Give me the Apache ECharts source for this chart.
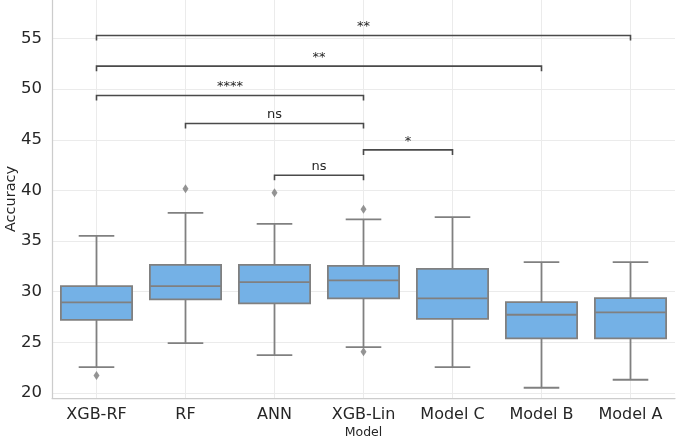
<!DOCTYPE html>
<html>
<head>
<meta charset="utf-8">
<script src="https://cdn.jsdelivr.net/npm/echarts@6/dist/echarts.min.js"></script>
<style>
html,body{margin:0;padding:0;background:#fff;}
#main{width:677px;height:440px;}
</style>
</head>
<body>
<div id="main"></div>
<script>
const categories = ['XGB-RF', 'RF', 'ANN', 'XGB-Lin', 'Model C', 'Model B', 'Model A'];
const whiskerLow  = [22.55, 24.92, 23.74, 24.53, 22.55, 20.51, 21.30];
const q1          = [27.22, 29.23, 28.84, 29.33, 27.32, 25.39, 25.39];
const median      = [28.94, 30.55, 30.94, 31.11, 29.33, 27.72, 27.95];
const q3          = [30.55, 32.65, 32.65, 32.55, 32.26, 28.97, 29.36];
const whiskerHigh = [35.50, 37.78, 36.70, 37.13, 37.36, 32.92, 32.92];
const outlierCat  = [0, 1, 2, 3, 3];
const outlierVal  = [21.73, 40.15, 39.76, 38.15, 24.06];
const bracketFrom = [3, 2, 1, 0, 0, 0];
const bracketTo   = [4, 3, 3, 3, 5, 6];
const bracketY    = [44.0, 41.5, 46.6, 49.37, 52.27, 55.3];
const bracketText = ['*', 'ns', 'ns', '****', '**', '**'];
const yTicks = [20, 25, 30, 35, 40, 45, 50, 55];

const catIdx = categories.map((c, i) => i);
const boxData = categories.map((c, i) => [i, whiskerLow[i], q1[i], median[i], q3[i], whiskerHigh[i]]);
const outData = outlierCat.map((c, i) => [c, outlierVal[i]]);
const brData = bracketFrom.map((f, i) => [f, bracketTo[i], bracketY[i], bracketText[i]]);

const FONT = 'DejaVu Sans';
const EDGE = '#808080';

const chart = echarts.init(document.getElementById('main'), null, {renderer: 'canvas'});
chart.setOption({
  animation: false,
  backgroundColor: '#ffffff',
  grid: {left: 52, right: 2, top: 0, bottom: 42, containLabel: false, outerBoundsMode: 'none'},
  xAxis: {
    type: 'value', min: -0.5, max: 6.5,
    name: 'Model', nameLocation: 'middle', nameGap: 28, nameMoveOverlap: false,
    nameTextStyle: {fontFamily: FONT, fontSize: 12.5, color: '#262626'},
    axisLine: {show: true, onZero: false, lineStyle: {color: '#cccccc', width: 1.25}},
    axisTick: {show: false, customValues: catIdx},
    axisLabel: {customValues: catIdx, formatter: v => categories[v], fontFamily: FONT, fontSize: 16, color: '#262626', margin: 9},
    splitLine: {show: true, lineStyle: {color: '#ebebeb', width: 1}}
  },
  yAxis: {
    type: 'value', min: 19.5, max: 58.8,
    name: 'Accuracy', nameLocation: 'middle', nameGap: 33, nameMoveOverlap: false,
    nameTextStyle: {fontFamily: FONT, fontSize: 14.5, color: '#262626'},
    axisLine: {show: true, onZero: false, lineStyle: {color: '#cccccc', width: 1.25}},
    axisTick: {show: false, customValues: yTicks},
    axisLabel: {customValues: yTicks, fontFamily: FONT, fontSize: 16.5, color: '#262626', margin: 10},
    splitLine: {show: true, lineStyle: {color: '#ebebeb', width: 1}}
  },
  series: [
    {
      type: 'custom',
      data: boxData,
      encode: {x: 0, y: [1, 2, 3, 4, 5]},
      z: 3,
      renderItem: function (params, api) {
        const i = api.value(0);
        const band = api.size([1, 0])[0];
        const bw = band * 0.8, cw = band * 0.4;
        const pLow = api.coord([i, api.value(1)]);
        const pQ1 = api.coord([i, api.value(2)]);
        const pMed = api.coord([i, api.value(3)]);
        const pQ3 = api.coord([i, api.value(4)]);
        const pHigh = api.coord([i, api.value(5)]);
        const x = pLow[0];
        const ls = {stroke: EDGE, lineWidth: 1.8, fill: null};
        return {
          type: 'group',
          children: [
            {type: 'line', shape: {x1: x, y1: pQ1[1], x2: x, y2: pLow[1]}, style: ls},
            {type: 'line', shape: {x1: x, y1: pQ3[1], x2: x, y2: pHigh[1]}, style: ls},
            {type: 'line', shape: {x1: x - cw / 2, y1: pLow[1], x2: x + cw / 2, y2: pLow[1]}, style: ls},
            {type: 'line', shape: {x1: x - cw / 2, y1: pHigh[1], x2: x + cw / 2, y2: pHigh[1]}, style: ls},
            {type: 'rect', shape: {x: x - bw / 2, y: pQ3[1], width: bw, height: pQ1[1] - pQ3[1]},
              style: {fill: '#74b1e6', stroke: EDGE, lineWidth: 1.8}},
            {type: 'line', shape: {x1: x - bw / 2, y1: pMed[1], x2: x + bw / 2, y2: pMed[1]}, style: ls}
          ]
        };
      }
    },
    {
      type: 'scatter',
      data: outData,
      symbol: 'diamond',
      symbolSize: [6, 9],
      itemStyle: {color: '#7a7a7a'},
      z: 4
    },
    {
      type: 'custom',
      data: brData,
      encode: {x: [0, 1], y: 2},
      z: 5,
      renderItem: function (params, api) {
        const a = api.coord([api.value(0), api.value(2)]);
        const b = api.coord([api.value(1), api.value(2)]);
        const label = brData[params.dataIndex][3];
        return {
          type: 'group',
          children: [
            {type: 'polyline', shape: {points: [[a[0], a[1] + 5], a, b, [b[0], b[1] + 5]]},
              style: {stroke: '#4a4a4a', lineWidth: 1.6, fill: null}},
            {type: 'text', x: (a[0] + b[0]) / 2, y: a[1] - 2,
              style: {text: label, fontFamily: FONT, fontSize: 13, fill: '#262626', align: 'center', verticalAlign: 'bottom'}}
          ]
        };
      }
    }
  ]
});
</script>
</body>
</html>
